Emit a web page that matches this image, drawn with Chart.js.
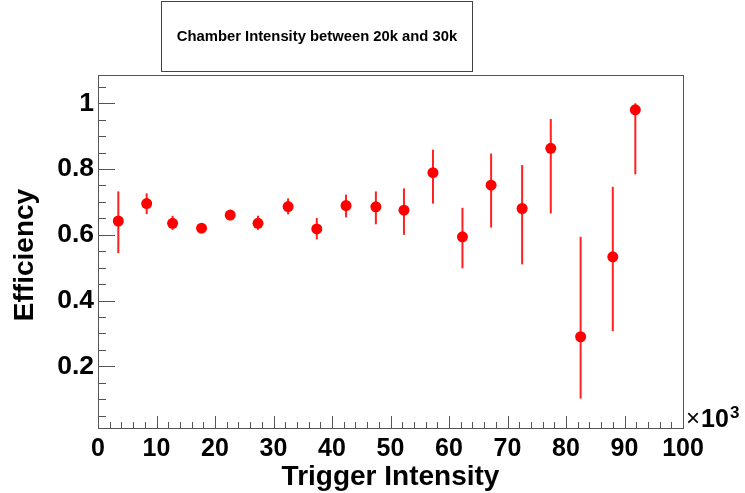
<!DOCTYPE html>
<html>
<head>
<meta charset="utf-8">
<script src="https://cdn.jsdelivr.net/npm/chart.js@4.4.1/dist/chart.umd.min.js"></script>
<style>
  html, body { margin: 0; padding: 0; background: #fff; }
  #wrap { width: 745px; height: 493px; }
</style>
</head>
<body>
<div id="wrap"><canvas id="effChart" width="745" height="493"></canvas></div>
<script>
// Data
const triggerIntensity = [3.47, 8.32, 12.75, 17.7, 22.6, 27.35, 32.5, 37.4, 42.4, 47.5,
                          52.3, 57.26, 62.3, 67.2, 72.5, 77.4, 82.5, 88.0, 91.85];
const efficiency = [0.642, 0.695, 0.635, 0.620, 0.660, 0.635, 0.686, 0.618, 0.689, 0.685,
                    0.675, 0.789, 0.594, 0.751, 0.680, 0.863, 0.290, 0.533, 0.980];
const errUpper = [0.732, 0.726, 0.658, 0.632, 0.672, 0.658, 0.711, 0.651, 0.722, 0.732,
                  0.741, 0.859, 0.682, 0.847, 0.812, 0.952, 0.594, 0.746, 1.000];
const errLower = [0.544, 0.663, 0.615, 0.608, 0.645, 0.615, 0.662, 0.586, 0.653, 0.632,
                  0.600, 0.695, 0.498, 0.622, 0.510, 0.665, 0.102, 0.307, 0.784];
const yTickValues = [0.2, 0.4, 0.6, 0.8, 1.0];
const xTickValues = [0, 10, 20, 30, 40, 50, 60, 70, 80, 90, 100];

const chartTitle = 'Chamber Intensity between 20k and 30k';
const xTitle = 'Trigger Intensity';
const yTitle = 'Efficiency';

const FONT = '"Liberation Sans", Arial, Helvetica, sans-serif';
const AXIS_COLOR = '#555';

// Error bars, drawn behind the markers
const errorBarPlugin = {
    id: 'errorBars',
    beforeDatasetsDraw(chart) {
        const ctx = chart.ctx;
        const xs = chart.scales.x, ys = chart.scales.y;
        ctx.save();
        ctx.strokeStyle = '#ff2020';
        ctx.lineWidth = 2;
        triggerIntensity.forEach((xv, i) => {
            const px = xs.getPixelForValue(xv);
            ctx.beginPath();
            ctx.moveTo(px, ys.getPixelForValue(errUpper[i]));
            ctx.lineTo(px, ys.getPixelForValue(errLower[i]));
            ctx.stroke();
        });
        ctx.restore();
    }
};

// ROOT style frame: box, inward ticks, axis titles, exponent label, title pave
const framePlugin = {
    id: 'rootFrame',
    afterDraw(chart) {
        const ctx = chart.ctx;
        const a = chart.chartArea;
        const xs = chart.scales.x, ys = chart.scales.y;
        ctx.save();

        // frame
        ctx.strokeStyle = AXIS_COLOR;
        ctx.lineWidth = 1;
        ctx.strokeRect(Math.round(a.left) + 0.5, Math.round(a.top) + 0.5,
                       Math.round(a.right - a.left), Math.round(a.bottom - a.top));

        // y ticks (major every 0.2, minor every 0.05)
        ctx.beginPath();
        for (let k = 1; k <= 21; k++) {
            const v = k * 0.05;
            if (v < ys.min || v > ys.max) continue;
            const py = Math.round(ys.getPixelForValue(v)) + 0.5;
            const len = (k % 4 === 0) ? 17 : 8;
            ctx.moveTo(a.left, py);
            ctx.lineTo(a.left + len, py);
        }
        // x ticks (major every 10, minor every 2)
        for (let v = 0; v <= 100; v += 2) {
            const px = Math.round(xs.getPixelForValue(v)) + 0.5;
            const len = (v % 10 === 0) ? 12 : 6;
            ctx.moveTo(px, a.bottom);
            ctx.lineTo(px, a.bottom - len);
        }
        ctx.stroke();

        // axis titles
        ctx.fillStyle = '#000';
        ctx.font = 'bold 28px ' + FONT;
        ctx.textAlign = 'center';
        ctx.textBaseline = 'alphabetic';
        ctx.fillText(xTitle, (a.left + a.right) / 2, 485);
        ctx.save();
        ctx.translate(33, 255);
        ctx.rotate(-Math.PI / 2);
        ctx.fillText(yTitle, 0, 0);
        ctx.restore();

        // x10^3 exponent
        ctx.textAlign = 'left';
        ctx.font = '24px ' + FONT;
        ctx.fillText('\u00d7', a.right + 3, 426);
        ctx.font = 'bold 25px ' + FONT;
        ctx.fillText('10', a.right + 18, 427);
        ctx.font = 'bold 17px ' + FONT;
        ctx.fillText('3', a.right + 47, 418);

        // title pave
        ctx.fillStyle = '#fff';
        ctx.fillRect(161.5, 1.5, 311, 70);
        ctx.strokeStyle = '#444';
        ctx.strokeRect(161.5, 1.5, 311, 70);
        ctx.fillStyle = '#000';
        ctx.font = 'bold 14.8px ' + FONT;
        ctx.textAlign = 'center';
        ctx.textBaseline = 'middle';
        ctx.fillText(chartTitle, 317, 37);

        ctx.restore();
    }
};

const ctx = document.getElementById('effChart').getContext('2d');
new Chart(ctx, {
    type: 'scatter',
    data: {
        datasets: [{
            label: yTitle,
            data: triggerIntensity.map((x, i) => ({ x: x, y: efficiency[i] })),
            backgroundColor: '#ff0000',
            borderColor: '#ff0000',
            pointRadius: 5.5,
            pointHoverRadius: 5.5,
            borderWidth: 0
        }]
    },
    options: {
        responsive: false,
        animation: false,
        devicePixelRatio: 1,
        layout: { padding: { top: 75, right: 62, left: 0, bottom: 0 } },
        plugins: {
            legend: { display: false },
            tooltip: { enabled: false },
            title: { display: false }
        },
        scales: {
            x: {
                type: 'linear',
                min: 0,
                max: 100,
                afterFit: s => { s.height = 65; },
                afterBuildTicks: s => { s.ticks = xTickValues.map(v => ({ value: v })); },
                grid: { display: false, drawTicks: false },
                border: { display: false },
                ticks: {
                    color: '#000',
                    padding: 6,
                    maxRotation: 0,
                    autoSkip: false,
                    font: { family: FONT, size: 25, weight: 'bold' },
                    callback: v => String(v)
                }
            },
            y: {
                type: 'linear',
                min: 0.0125,
                max: 1.086,
                afterFit: s => { s.width = 98; },
                afterBuildTicks: s => { s.ticks = yTickValues.map(v => ({ value: v })); },
                grid: { display: false, drawTicks: false },
                border: { display: false },
                ticks: {
                    color: '#000',
                    padding: 4,
                    autoSkip: false,
                    font: { family: FONT, size: 26.5, weight: 'bold' },
                    callback: v => (Math.abs(v - 1) < 1e-6 ? '1' : v.toFixed(1))
                }
            }
        }
    },
    plugins: [errorBarPlugin, framePlugin]
});
</script>
</body>
</html>
